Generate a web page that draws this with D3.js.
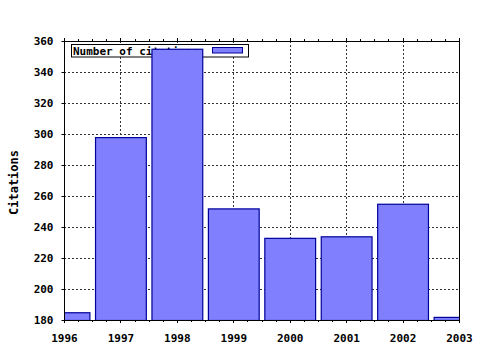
<!DOCTYPE html>
<html><head><meta charset="utf-8">
<script src="https://cdn.jsdelivr.net/npm/d3@7"></script>
<style>body{margin:0;background:#fff}svg{display:block}text{font-family:"DejaVu Sans Mono",monospace;font-weight:bold;fill:#000}</style>
</head><body>
<svg id="c" width="480" height="350"></svg>
<script>
const years = [1996, 1997, 1998, 1999, 2000, 2001, 2002, 2003];
const citations = [185, 298, 355, 252, 233, 234, 255, 182];
const yTicks = [180, 200, 220, 240, 260, 280, 300, 320, 340, 360];
const seriesName = "Number of citations";
const yTitle = "Citations";

const svg = d3.select("#c");
const L = 64, R = 459, T = 41, B = 320;
const x = d3.scaleLinear().domain([1996, 2003]).range([L, R]);
const y = d3.scaleLinear().domain([180, 360]).range([B, T]);
const step = x(1997) - x(1996);
const bw = step * 0.9;
const fill = "#8080ff", stroke = "#000099";

svg.append("rect").attr("x", L).attr("y", T).attr("width", R - L).attr("height", B - T).attr("fill", "#fff");

svg.append("defs").append("clipPath").attr("id", "pc")
  .append("rect").attr("x", L).attr("y", T).attr("width", R - L).attr("height", B - T);

// grid
const g = svg.append("g").attr("stroke", "#333").attr("stroke-dasharray", "2,2").attr("shape-rendering", "crispEdges");
g.selectAll("line.h").data(yTicks.slice(1, -1)).join("line")
  .attr("x1", L).attr("x2", R).attr("y1", d => Math.round(y(d)) + 0.5).attr("y2", d => Math.round(y(d)) + 0.5);
g.selectAll("line.v").data(years.slice(1, -1)).join("line")
  .attr("y1", T).attr("y2", B).attr("x1", d => Math.round(x(d)) + 0.5).attr("x2", d => Math.round(x(d)) + 0.5);

// legend (drawn beneath bars)
const lg = svg.append("g");
lg.append("rect").attr("x", 71.5).attr("y", 44.5).attr("width", 177).attr("height", 12.5)
  .attr("fill", "#fff").attr("stroke", "#000").attr("stroke-width", 1);
lg.append("text").attr("x", 73).attr("y", 54.5).attr("font-size", 11).text(seriesName);
lg.append("rect").attr("x", 212.5).attr("y", 47.5).attr("width", 30).attr("height", 5.5)
  .attr("fill", fill).attr("stroke", stroke);

// bars
svg.append("g").attr("clip-path", "url(#pc)")
  .selectAll("rect").data(years.map((d, i) => ({ yr: d, v: citations[i] }))).join("rect")
  .attr("x", d => x(d.yr) - bw / 2 + 0.5)
  .attr("width", bw)
  .attr("y", d => y(d.v) + 0.5)
  .attr("height", d => B - y(d.v))
  .attr("fill", fill).attr("stroke", stroke).attr("stroke-width", 1.2);

// frame
svg.append("rect").attr("x", L + 0.5).attr("y", T + 0.5).attr("width", R - L).attr("height", B - T)
  .attr("fill", "none").attr("stroke", "#000").attr("shape-rendering", "crispEdges");

// axes
const xAxis = d3.axisBottom(x).tickValues(years).tickFormat(d3.format("d")).tickSize(0).tickPadding(14);
const xa = svg.append("g").attr("transform", `translate(0,${B})`).call(xAxis);
xa.select(".domain").remove();
xa.selectAll("text").attr("font-size", 11).style("font-family", "DejaVu Sans Mono").style("font-weight", "bold");

// minor ticks bottom and top
const minors = d3.range(0, 7 * 4 + 1).map(i => 1996 + i / 4);
svg.append("g").attr("stroke", "#000").attr("shape-rendering", "crispEdges")
  .selectAll("line").data(minors).join("line")
  .attr("x1", d => Math.round(x(d)) + 0.5).attr("x2", d => Math.round(x(d)) + 0.5)
  .attr("y1", B).attr("y2", d => B + (Number.isInteger(d) ? 3 : 2));
svg.append("g").attr("stroke", "#000").attr("shape-rendering", "crispEdges")
  .selectAll("line").data(minors).join("line")
  .attr("x1", d => Math.round(x(d)) + 0.5).attr("x2", d => Math.round(x(d)) + 0.5)
  .attr("y1", T + 1).attr("y2", d => T - (Number.isInteger(d) ? 3 : 2));

const yAxis = d3.axisLeft(y).tickValues(yTicks).tickSize(3).tickPadding(8);
const ya = svg.append("g").attr("transform", `translate(${L + 0.5},0)`).call(yAxis);
ya.select(".domain").remove();
ya.selectAll("line").attr("stroke", "#000");
ya.selectAll("text").attr("font-size", 11).style("font-family", "DejaVu Sans Mono").style("font-weight", "bold");

svg.append("text").attr("transform", `translate(18,${(T + B) / 2 + 2}) rotate(-90)`)
  .attr("text-anchor", "middle").attr("font-size", 12).text(yTitle);
</script>
</body></html>
